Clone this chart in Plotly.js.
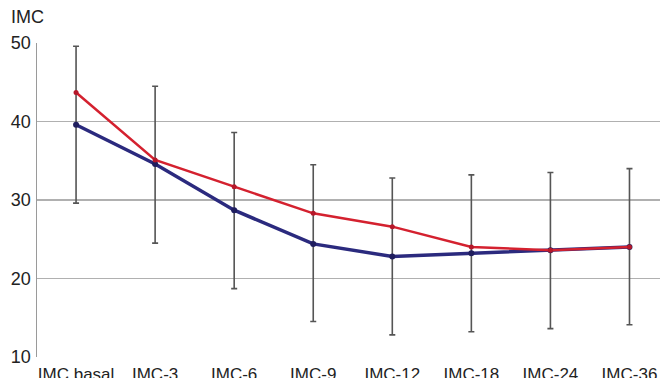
<!DOCTYPE html>
<html>
<head>
<meta charset="utf-8">
<script src="https://cdn.plot.ly/plotly-3.0.1.min.js"></script>
<style>html,body{margin:0;padding:0;background:#fff;}#chart{width:660px;height:378px;}</style>
</head>
<body>
<div id="chart"></div>
<script>
const categories = ["IMC basal", "IMC-3", "IMC-6", "IMC-9", "IMC-12", "IMC-18", "IMC-24", "IMC-36"];
const blueValues = [39.6, 34.6, 28.7, 24.4, 22.8, 23.2, 23.6, 24.0];
const redValues  = [43.7, 35.1, 31.7, 28.3, 26.6, 24.0, 23.6, 24.0];
const errorPlus  = [10.0, 9.9, 9.9, 10.1, 10.0, 10.0, 9.9, 10.0];
const errorMinus = [10.0, 10.1, 10.0, 9.9, 10.0, 10.0, 10.0, 9.9];
const yTicks = [10, 20, 30, 40, 50];

const traces = [
  {
    x: categories, y: blueValues, type: 'scatter', mode: 'lines+markers',
    line: {color: '#2b2a7e', width: 3.5},
    marker: {color: '#1f1d5e', size: 6},
    error_y: {type: 'data', symmetric: false, array: errorPlus, arrayminus: errorMinus,
              color: '#555555', thickness: 1.6, width: 3},
    hoverinfo: 'none', showlegend: false
  },
  {
    x: categories, y: redValues, type: 'scatter', mode: 'lines+markers',
    line: {color: '#d4212f', width: 2.5},
    marker: {color: '#b5182a', size: 5},
    hoverinfo: 'none', showlegend: false
  }
];

const layout = {
  width: 660, height: 378,
  margin: {l: 37, r: 0, t: 43, b: 21},
  paper_bgcolor: '#ffffff', plot_bgcolor: '#ffffff',
  font: {family: 'Liberation Sans, Arial, sans-serif', color: '#222222'},
  title: {text: 'IMC', font: {size: 18, color: '#222222'}, xref: 'container', yref: 'container',
          x: 11/660, xanchor: 'left', y: 1 - 17/378, yanchor: 'middle'},
  xaxis: {
    type: 'category', range: [-0.494, 7.386], showgrid: false, zeroline: false,
    showline: false, ticks: '', ticklabelstandoff: 5, tickfont: {size: 17, color: '#222222'}
  },
  yaxis: {
    range: [9.98, 50.02], tickvals: yTicks, ticktext: yTicks.map(String),
    showgrid: true, gridcolor: '#b0b0b0', gridwidth: 1.2,
    zeroline: false, showline: true, linecolor: '#9a9a9a', linewidth: 1.5,
    ticks: '', ticklabelstandoff: 1, tickfont: {size: 18, color: '#222222'}
  }
};

Plotly.newPlot('chart', traces, layout, {displayModeBar: false, staticPlot: true});
</script>
</body>
</html>
